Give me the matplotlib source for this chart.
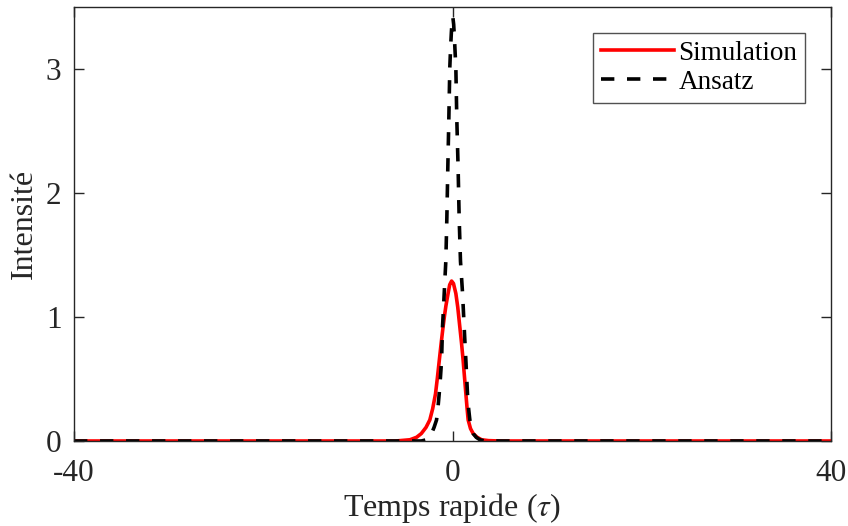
import numpy as np
import matplotlib.pyplot as plt

plt.rcParams['font.family'] = ['Liberation Serif', 'DejaVu Serif']
plt.rcParams['mathtext.fontset'] = 'stix'
plt.rcParams['axes.unicode_minus'] = False

# values
sim_t = [-40, -6, -4.5, -3.8, -3.3, -2.8, -2.4, -2.1, -1.8, -1.6, -1.4, -1.2,
         -1.0, -0.85, -0.7, -0.47, -0.3, -0.1, 0.1, 0.35, 0.55, 0.77, 0.95,
         1.12, 1.27, 1.41, 1.53, 1.65, 1.9, 2.18, 2.6, 3.07, 3.8, 5, 40]
sim_I = [0, 0, 0.01, 0.03, 0.06, 0.11, 0.17, 0.26, 0.38, 0.51, 0.65, 0.79,
         0.92, 1.01, 1.09, 1.19, 1.26, 1.29, 1.27, 1.19, 1.08, 0.92, 0.79,
         0.65, 0.51, 0.38, 0.27, 0.17, 0.10, 0.06, 0.03, 0.01, 0.003, 0, 0]

ans_t = [-40, -3.3, -2.75, -2.45, -2.22, -1.95, -1.69, -1.55, -1.41, -1.28, -1.16,
         -1.06, -0.97, -0.88, -0.71, -0.6, -0.5, -0.39, -0.29, -0.2, -0.12, -0.05,
         0.03, 0.12, 0.2, 0.35, 0.45, 0.59, 0.70, 0.84, 0.95, 1.06, 1.23, 1.32,
         1.41, 1.58, 1.7, 1.83, 2.0, 2.18, 2.5, 2.89, 3.4, 40]
ans_I = [0, 0, 0.01, 0.03, 0.06, 0.11, 0.17, 0.26, 0.38, 0.51, 0.65,
         0.92, 1.05, 1.19, 1.45, 1.80, 2.20, 2.60, 3.01, 3.18, 3.30, 3.38,
         3.42, 3.36, 3.25, 3.01, 2.60, 2.20, 1.80, 1.45, 1.32, 1.19, 0.92, 0.78,
         0.65, 0.38, 0.26, 0.17, 0.11, 0.06, 0.03, 0.01, 0, 0]

dark = '#262626'

fig = plt.figure(figsize=(8.48, 5.26), dpi=100)
ax = fig.add_axes([0.0873, 0.1616, 0.8927, 0.8251])

ax.plot(sim_t, sim_I, color='red', lw=2.6, label='Simulation')
ax.plot(ans_t, ans_I, color='black', lw=2.6, ls='--', dashes=(3.7, 3.5), label='Ansatz')

ax.set_xlim(-40, 40)
ax.set_ylim(0, 3.5)
ax.set_xticks([-40, 0, 40])
ax.set_yticks([0, 1, 2, 3])
ax.tick_params(direction='in', length=7, width=1, top=True, right=True,
               labelsize=22.5, colors=dark, pad=9)
ax.tick_params(axis='x', pad=13)
for s in ax.spines.values():
    s.set_color(dark)
    s.set_linewidth(1)

ax.set_xlabel(r'Temps rapide ($\tau$)', fontsize=23, labelpad=2, color=dark)
ax.set_ylabel('Intensité', fontsize=23, labelpad=5, color=dark)

leg = ax.legend(loc='upper right', fontsize=19.5, frameon=True, fancybox=False,
                edgecolor=dark, handlelength=2.7, handletextpad=0.15,
                borderpad=0.3, labelspacing=0.15, borderaxespad=0.95)
leg.get_frame().set_linewidth(1)

fig.savefig('out.png', dpi=100)
